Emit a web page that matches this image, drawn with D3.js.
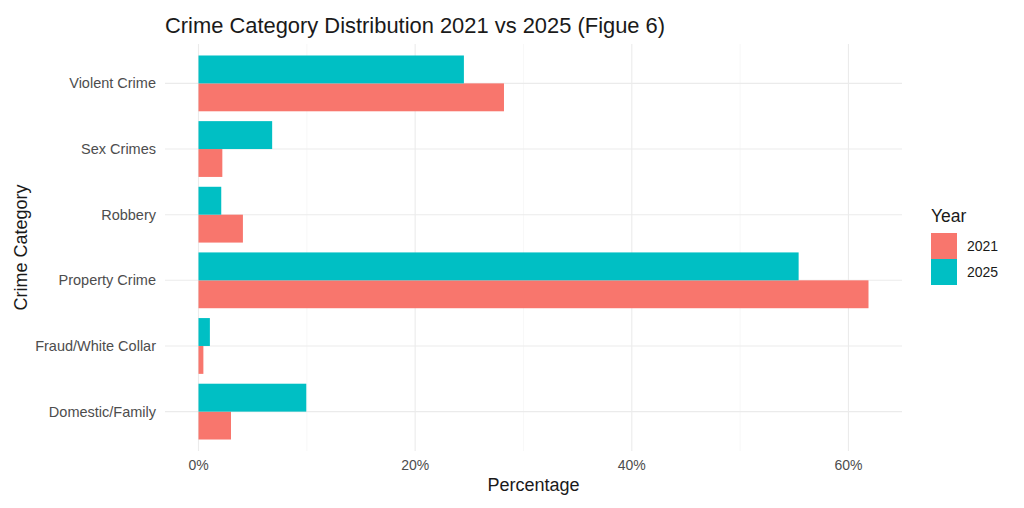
<!DOCTYPE html>
<html>
<head>
<meta charset="utf-8">
<script src="https://cdn.jsdelivr.net/npm/d3@7"></script>
<style>
  body { margin: 0; background: #fff; }
  text { font-family: "Liberation Sans", Arial, Helvetica, sans-serif; }
</style>
</head>
<body>
<script>
// categories top to bottom
var categories = ["Violent Crime", "Sex Crimes", "Robbery", "Property Crime", "Fraud/White Collar", "Domestic/Family"];
var years = ["2021", "2025"];
var values2021 = [28.2, 2.2, 4.1, 61.85, 0.45, 3.0];
var values2025 = [24.5, 6.8, 2.1, 55.4, 1.05, 9.95];
var colors = ["#F8766D", "#00BFC4"];
var xTicks = [0, 20, 40, 60];
var xMinor = [10, 30, 50];

var W = 1024, H = 508;
var panelL = 165, panelR = 902, panelT = 44, panelB = 451;

var svg = d3.select("body").append("svg")
    .attr("width", W)
    .attr("height", H);

var maxVal = d3.max(values2021.concat(values2025));
var pad = maxVal * 0.05;
var x = d3.scaleLinear().domain([-pad, maxVal + pad]).range([panelL, panelR]);

var y = d3.scaleBand().domain(categories).range([panelT, panelB])
    .paddingInner(0).paddingOuter(0.1);

// minor gridlines
svg.selectAll(".minor").data(xMinor).enter().append("line")
    .attr("x1", function(d){ return x(d); })
    .attr("x2", function(d){ return x(d); })
    .attr("y1", panelT).attr("y2", panelB)
    .attr("stroke", "#F2F2F2").attr("stroke-width", 0.6);

// major gridlines
svg.selectAll(".vmajor").data(xTicks).enter().append("line")
    .attr("x1", function(d){ return x(d); })
    .attr("x2", function(d){ return x(d); })
    .attr("y1", panelT).attr("y2", panelB)
    .attr("stroke", "#EBEBEB").attr("stroke-width", 1.1);

svg.selectAll(".hmajor").data(categories).enter().append("line")
    .attr("x1", panelL).attr("x2", panelR)
    .attr("y1", function(d){ return y(d) + y.bandwidth() / 2; })
    .attr("y2", function(d){ return y(d) + y.bandwidth() / 2; })
    .attr("stroke", "#EBEBEB").attr("stroke-width", 1.1);

// bars: 2025 upper half, 2021 lower half
var groupH = y.step() * 0.85;
var inner = d3.scaleBand().domain(["2025", "2021"]).range([0, groupH]);

var rows = [];
categories.forEach(function(c, i) {
  rows.push({cat: c, year: "2021", v: values2021[i]});
  rows.push({cat: c, year: "2025", v: values2025[i]});
});

svg.selectAll(".bar").data(rows).enter().append("rect")
    .attr("x", x(0))
    .attr("y", function(d){ return y(d.cat) + y.bandwidth() / 2 - groupH / 2 + inner(d.year); })
    .attr("width", function(d){ return x(d.v) - x(0); })
    .attr("height", inner.bandwidth())
    .attr("fill", function(d){ return d.year === "2021" ? colors[0] : colors[1]; });

// axes text
svg.selectAll(".ylab").data(categories).enter().append("text")
    .attr("x", panelL - 9)
    .attr("y", function(d){ return y(d) + y.bandwidth() / 2; })
    .attr("dy", "0.35em")
    .attr("text-anchor", "end")
    .attr("font-size", 14.5)
    .attr("fill", "#4D4D4D")
    .text(function(d){ return d; });

svg.selectAll(".xlab").data(xTicks).enter().append("text")
    .attr("x", function(d){ return x(d); })
    .attr("y", 465)
    .attr("dy", "0.35em")
    .attr("text-anchor", "middle")
    .attr("font-size", 14)
    .attr("fill", "#4D4D4D")
    .text(function(d){ return d + "%"; });

svg.append("text")
    .attr("x", (panelL + panelR) / 2).attr("y", 491)
    .attr("text-anchor", "middle")
    .attr("font-size", 18)
    .attr("fill", "#1a1a1a")
    .text("Percentage");

svg.append("text")
    .attr("transform", "translate(27," + (panelT + panelB) / 2 + ") rotate(-90)")
    .attr("text-anchor", "middle")
    .attr("font-size", 18)
    .attr("fill", "#1a1a1a")
    .text("Crime Category");

svg.append("text")
    .attr("x", panelL).attr("y", 33)
    .attr("font-size", 21.9)
    .attr("fill", "#1a1a1a")
    .text("Crime Category Distribution 2021 vs 2025 (Figue 6)");

// legend
var lg = svg.append("g").attr("transform", "translate(931,0)");
lg.append("text").attr("x", 0).attr("y", 222)
    .attr("font-size", 17.5).attr("fill", "#1a1a1a").text("Year");
years.forEach(function(yr, i) {
  lg.append("rect").attr("x", 0).attr("y", 233 + i * 26)
      .attr("width", 26).attr("height", 26)
      .attr("fill", colors[i]);
  lg.append("text").attr("x", 36).attr("y", 246 + i * 26)
      .attr("dy", "0.35em")
      .attr("font-size", 14).attr("fill", "#1a1a1a").text(yr);
});
</script>
</body>
</html>
